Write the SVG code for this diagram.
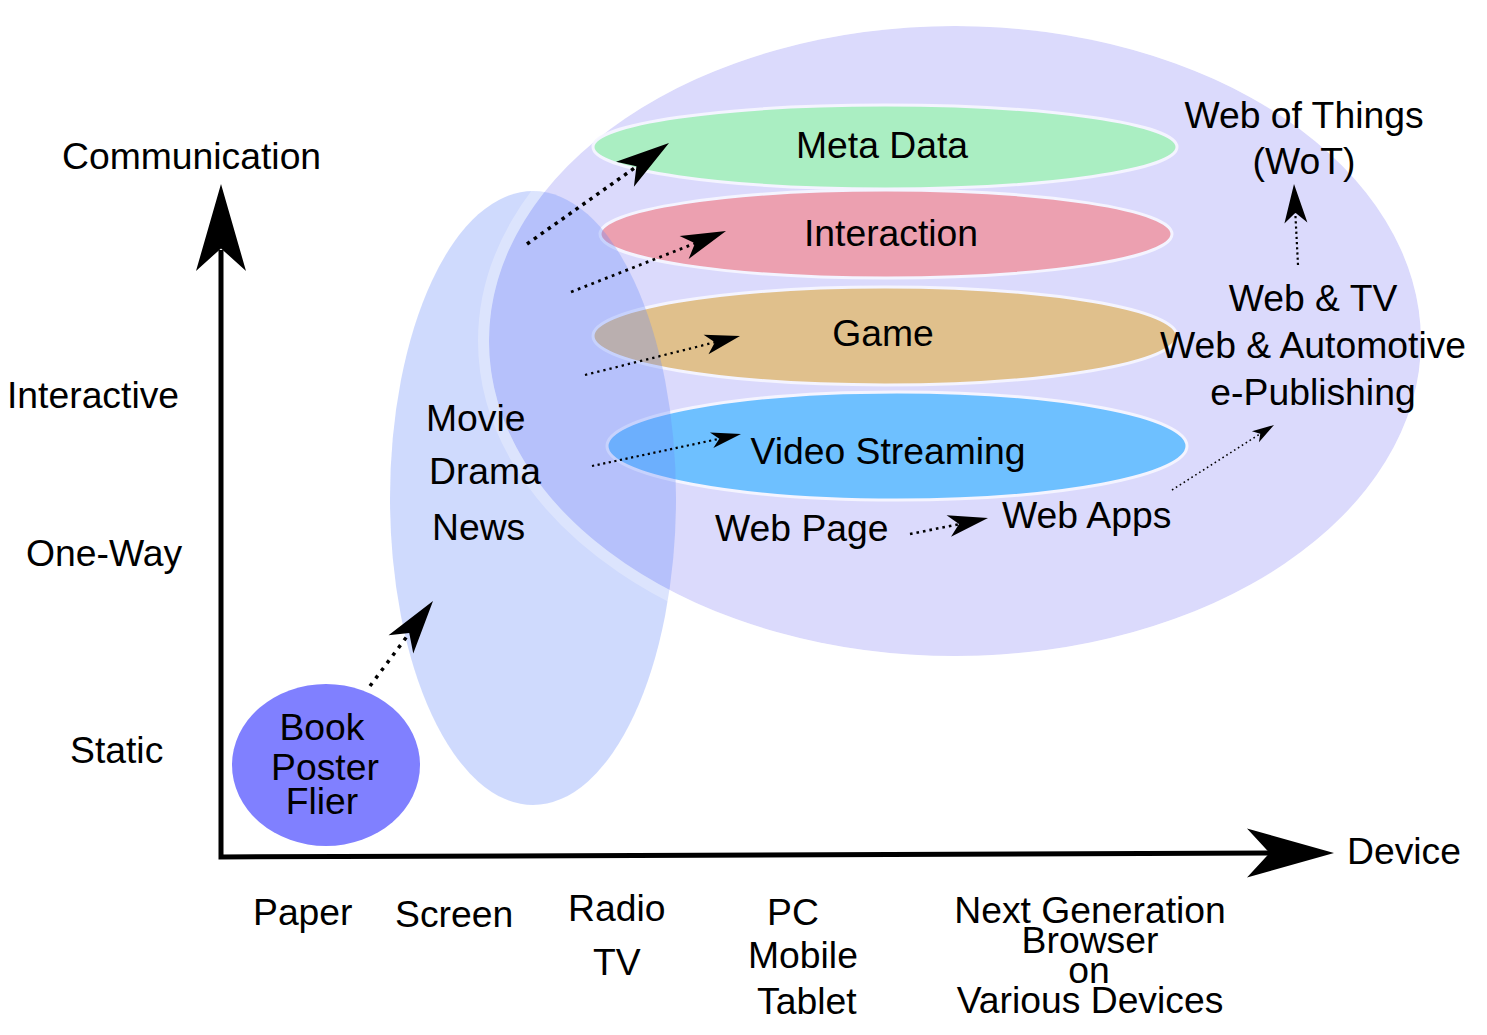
<svg xmlns="http://www.w3.org/2000/svg" xmlns:xlink="http://www.w3.org/1999/xlink" width="1487" height="1035" viewBox="0 0 1487 1035">
<style>
text{font-family:"Liberation Sans",Arial,sans-serif;font-size:37.3px;fill:#000}
.c{text-anchor:middle}
.band{stroke:#f4f4ff;stroke-width:3}
.dot{fill:none;stroke:#000;stroke-linecap:butt}
.axis{fill:none;stroke:#000;stroke-width:5;stroke-linejoin:miter}
</style>
<defs>
<path id="head" d="M0,0 L-1,-1 L-0.74,0 L-1,1 Z" fill="#000"/>
</defs>
<rect width="1487" height="1035" fill="#fff"/>

<g id="web-area">
<ellipse cx="955" cy="341" rx="466" ry="315" fill="#dbdafc"/>
</g>

<g id="metadata">
<ellipse cx="885" cy="147" rx="292" ry="42" fill="#aaeec2" class="band"/>
<text x="882" y="158" class="c">Meta Data</text>
</g>
<g id="interaction">
<ellipse cx="886" cy="234" rx="286" ry="44" fill="#eca0b0" class="band"/>
<text x="891" y="246" class="c">Interaction</text>
</g>
<g id="game">
<ellipse cx="885" cy="336" rx="292" ry="49" fill="#e0c08c" class="band"/>
<text x="883" y="346" class="c">Game</text>
</g>
<g id="video">
<ellipse cx="897" cy="446" rx="290" ry="54" fill="#6ec0ff" class="band"/>
<text x="888" y="464" class="c">Video Streaming</text>
</g>

<g id="screen">
<ellipse cx="533" cy="498" rx="143" ry="307" fill="#6a8cf9" fill-opacity="0.32"/>
<ellipse cx="955" cy="341" rx="471.5" ry="320.5" fill="none" stroke="#ffffff" stroke-opacity="0.28" stroke-width="11"/>
<text x="426" y="431">Movie</text>
<text x="429" y="484">Drama</text>
<text x="432" y="540">News</text>
</g>

<g id="paper">
<ellipse cx="326" cy="765" rx="94" ry="81" fill="#8080ff"/>
<text x="322" y="740" class="c">Book</text>
<text x="325" y="780" class="c">Poster</text>
<text x="322" y="814" class="c">Flier</text>
</g>

<g id="web-labels">
<text x="715" y="541">Web Page</text>
<text x="1002" y="528">Web Apps</text>
<text x="1313" y="311" class="c">Web &amp; TV</text>
<text x="1313" y="358" class="c">Web &amp; Automotive</text>
<text x="1313" y="405" class="c">e-Publishing</text>
<text x="1304" y="128" class="c">Web of Things</text>
<text x="1304" y="174" class="c">(WoT)</text>
</g>

<g id="axes">
<polyline class="axis" points="221,250 221,857 1270,853"/>
<use xlink:href="#head" href="#head" transform="translate(221,184) rotate(-90) scale(87,25)"/>
<use xlink:href="#head" href="#head" transform="translate(1334,853) scale(87,24.5)"/>
<text x="62" y="169">Communication</text>
<text x="7" y="408">Interactive</text>
<text x="26" y="566">One-Way</text>
<text x="70" y="763">Static</text>
<text x="1347" y="864">Device</text>
<text x="253" y="925">Paper</text>
<text x="395" y="927">Screen</text>
<text x="568" y="921">Radio</text>
<text x="593" y="975">TV</text>
<text x="767" y="925">PC</text>
<text x="748" y="968">Mobile</text>
<text x="757" y="1014">Tablet</text>
<text x="1090" y="923" class="c">Next Generation</text>
<text x="1090" y="953" class="c">Browser</text>
<text x="1089" y="983" class="c">on</text>
<text x="1090" y="1013" class="c">Various Devices</text>
</g>

<g id="connectors">
<line class="dot" x1="370" y1="686" x2="414" y2="627" stroke-width="3.5" stroke-dasharray="3.5 6"/>
<use xlink:href="#head" href="#head" transform="translate(433,601) rotate(-53.5) scale(54,15.4)"/>
<line class="dot" x1="527" y1="244" x2="643" y2="162" stroke-width="3.5" stroke-dasharray="3.5 5"/>
<use xlink:href="#head" href="#head" transform="translate(669,143) rotate(-35.4) scale(54,15.4)"/>
<line class="dot" x1="571" y1="292" x2="701" y2="241" stroke-width="2.8" stroke-dasharray="2.8 4.5"/>
<use xlink:href="#head" href="#head" transform="translate(726,231) rotate(-21.5) scale(45,12.3)"/>
<line class="dot" x1="585" y1="375" x2="720" y2="341" stroke-width="2.3" stroke-dasharray="2.3 4"/>
<use xlink:href="#head" href="#head" transform="translate(740,336) rotate(-14.1) scale(35,10)"/>
<line class="dot" x1="592" y1="466" x2="723" y2="438" stroke-width="2.2" stroke-dasharray="2.2 3.5"/>
<use xlink:href="#head" href="#head" transform="translate(741,434) rotate(-12.1) scale(30,8)"/>
<line class="dot" x1="910" y1="534" x2="965" y2="523" stroke-width="2.6" stroke-dasharray="2.6 4"/>
<use xlink:href="#head" href="#head" transform="translate(988,518) rotate(-11.6) scale(40,11)"/>
<line class="dot" x1="1172" y1="490" x2="1263" y2="432" stroke-width="1.6" stroke-dasharray="1.6 3"/>
<use xlink:href="#head" href="#head" transform="translate(1274,425) rotate(-32.5) scale(22,6.5)"/>
<line class="dot" x1="1298" y1="265" x2="1295" y2="207" stroke-width="2.2" stroke-dasharray="2.2 3"/>
<use xlink:href="#head" href="#head" transform="translate(1294,184) rotate(-92.8) scale(39,11.5)"/>
</g>
</svg>
